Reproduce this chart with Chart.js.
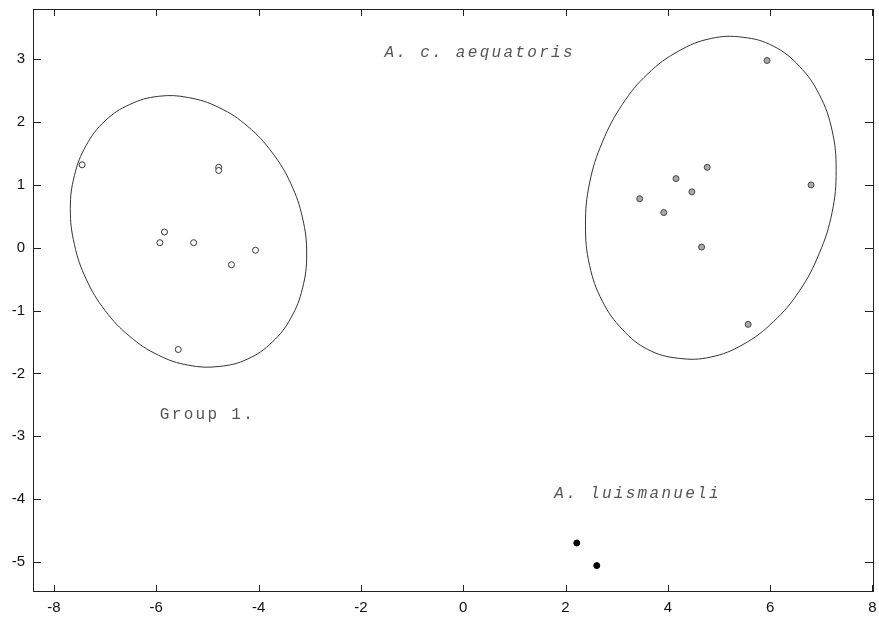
<!DOCTYPE html>
<html>
<head>
<meta charset="utf-8">
<script src="https://cdn.jsdelivr.net/npm/chart.js@4.4.1/dist/chart.umd.min.js"></script>
<style>
    body { margin: 0; background: #fff; }
    #wrap { width: 879px; height: 618px; }
</style>
</head>
<body>
<div id="wrap"><canvas id="myChart" width="879" height="618"></canvas></div>
<script>
// Group 1 (open circles)
const group1X = [-7.45, -4.78, -4.78, -5.84, -5.93, -5.27, -4.06, -4.53, -5.57];
const group1Y = [1.32, 1.28, 1.23, 0.25, 0.08, 0.08, -0.04, -0.27, -1.62];

// A. c. aequatoris (grey dots)
const aequatorisX = [5.94, 4.77, 4.16, 4.47, 6.80, 3.45, 3.92, 4.66, 5.57];
const aequatorisY = [2.98, 1.28, 1.10, 0.89, 1.00, 0.78, 0.56, 0.01, -1.22];

// A. luismanueli (black dots)
const luisX = [2.22, 2.61];
const luisY = [-4.70, -5.06];

// ellipse outlines (24 points each)
const ellipse1X = [-3.06, -3.14, -3.37, -3.73, -4.21, -4.77, -5.37, -5.96, -6.52, -7.00, -7.37, -7.60,
    -7.68, -7.60, -7.37, -7.00, -6.52, -5.96, -5.37, -4.77, -4.21, -3.73, -3.37, -3.14];
const ellipse1Y = [-0.10, 0.47, 1.02, 1.51, 1.93, 2.23, 2.39, 2.41, 2.28, 2.02, 1.63, 1.15,
    0.62, 0.05, -0.50, -1.00, -1.41, -1.71, -1.87, -1.89, -1.77, -1.50, -1.12, -0.64];

const ellipse2X = [7.29, 7.21, 6.96, 6.57, 6.06, 5.47, 4.84, 4.21, 3.61, 3.11, 2.72, 2.47,
    2.39, 2.47, 2.72, 3.11, 3.61, 4.21, 4.84, 5.47, 6.06, 6.57, 6.96, 7.21];
const ellipse2Y = [1.23, 1.87, 2.44, 2.89, 3.21, 3.35, 3.33, 3.13, 2.77, 2.28, 1.68, 1.03,
    0.36, -0.28, -0.85, -1.30, -1.62, -1.76, -1.74, -1.54, -1.18, -0.69, -0.09, 0.56];

// text labels inside the plot
const noteTexts = ["A. c. aequatoris", "Group 1.", "A. luismanueli"];
const noteX = [-1.54, -5.93, 1.78];
const noteY = [3.04, -2.72, -3.98];
const noteItalic = [true, false, true];

const xMin = -8.41, xMax = 8.03, xStep = 2;
const yMin = -5.48, yMax = 3.8, yStep = 1;

function toPoints(xs, ys) {
    return xs.map((x, i) => ({ x: x, y: ys[i] }));
}

// wrap the outline so every visible segment has neighbours on both sides
function closedLoop(xs, ys) {
    const pts = toPoints(xs, ys);
    return [pts[pts.length - 1]].concat(pts, [pts[0], pts[1]]);
}

function loopSegment(n) {
    return {
        borderColor: c => (c.p0DataIndex === 0 || c.p0DataIndex === n + 1) ? "rgba(0,0,0,0)" : undefined
    };
}

// no automatic padding for labels hanging over the edges
function fixAxis(size) {
    return s => {
        if (s.isHorizontal()) s.height = size; else s.width = size;
        s.paddingTop = 0;
        s.paddingBottom = 0;
        s.paddingLeft = 0;
        s.paddingRight = 0;
    };
}

const framePlugin = {
    id: "frame",
    afterDatasetsDraw(chart) {
        const ctx = chart.ctx;
        const a = chart.chartArea;
        const xs = chart.scales.x;
        const ys = chart.scales.y;
        ctx.save();
        ctx.strokeStyle = "#222";
        ctx.lineWidth = 1;
        ctx.strokeRect(Math.round(a.left) + 0.5, Math.round(a.top) + 0.5,
            Math.round(a.right - a.left) - 1, Math.round(a.bottom - a.top) - 1);

        // tick marks pointing inward on all four sides
        ctx.beginPath();
        xs.ticks.forEach(t => {
            const px = Math.round(xs.getPixelForValue(t.value)) + 0.5;
            ctx.moveTo(px, a.bottom);
            ctx.lineTo(px, a.bottom - 7);
            ctx.moveTo(px, a.top);
            ctx.lineTo(px, a.top + 7);
        });
        ys.ticks.forEach(t => {
            const py = Math.round(ys.getPixelForValue(t.value)) + 0.5;
            ctx.moveTo(a.left, py);
            ctx.lineTo(a.left + 8, py);
            ctx.moveTo(a.right, py);
            ctx.lineTo(a.right - 9, py);
        });
        ctx.stroke();

        // notes
        ctx.fillStyle = "#555";
        ctx.textBaseline = "alphabetic";
        ctx.textAlign = "left";
        ctx.letterSpacing = "2.3px";
        noteTexts.forEach((txt, i) => {
            ctx.font = (noteItalic[i] ? "italic " : "") + "16px 'Liberation Mono', 'DejaVu Sans Mono', monospace";
            ctx.fillText(txt, xs.getPixelForValue(noteX[i]), ys.getPixelForValue(noteY[i]));
        });
        ctx.restore();
    }
};

const ctx = document.getElementById("myChart").getContext("2d");
const myChart = new Chart(ctx, {
    type: "scatter",
    data: {
        datasets: [
            {
                label: "ellipse group 1",
                data: closedLoop(ellipse1X, ellipse1Y),
                showLine: true,
                tension: 0.4,
                segment: loopSegment(ellipse1X.length),
                borderColor: "#333",
                borderWidth: 1,
                pointRadius: 0
            },
            {
                label: "ellipse aequatoris",
                data: closedLoop(ellipse2X, ellipse2Y),
                showLine: true,
                tension: 0.4,
                segment: loopSegment(ellipse2X.length),
                borderColor: "#333",
                borderWidth: 1,
                pointRadius: 0
            },
            {
                label: "Group 1.",
                data: toPoints(group1X, group1Y),
                pointRadius: 3,
                pointBackgroundColor: "#fff",
                pointBorderColor: "#333",
                pointBorderWidth: 1
            },
            {
                label: "A. c. aequatoris",
                data: toPoints(aequatorisX, aequatorisY),
                pointRadius: 3,
                pointBackgroundColor: "#aaa",
                pointBorderColor: "#444",
                pointBorderWidth: 1
            },
            {
                label: "A. luismanueli",
                data: toPoints(luisX, luisY),
                pointRadius: 3,
                pointBackgroundColor: "#000",
                pointBorderColor: "#000",
                pointBorderWidth: 1
            }
        ]
    },
    options: {
        responsive: false,
        animation: false,
        layout: { padding: { top: 9, right: 3, left: 0, bottom: 0 } },
        plugins: {
            legend: { display: false },
            tooltip: { enabled: false }
        },
        scales: {
            x: {
                type: "linear",
                min: xMin,
                max: xMax,
                afterFit: fixAxis(26),
                grid: { display: false, drawTicks: false },
                border: { display: false },
                ticks: {
                    stepSize: xStep,
                    includeBounds: false,
                    padding: 7,
                    color: "#111",
                    maxRotation: 0,
                    font: { family: "'Liberation Sans', Arial", size: 15 }
                }
            },
            y: {
                type: "linear",
                min: yMin,
                max: yMax,
                afterFit: fixAxis(33),
                grid: { display: false, drawTicks: false },
                border: { display: false },
                ticks: {
                    stepSize: yStep,
                    includeBounds: false,
                    padding: 8,
                    color: "#111",
                    font: { family: "'Liberation Sans', Arial", size: 15 }
                }
            }
        }
    },
    plugins: [framePlugin]
});
</script>
</body>
</html>
